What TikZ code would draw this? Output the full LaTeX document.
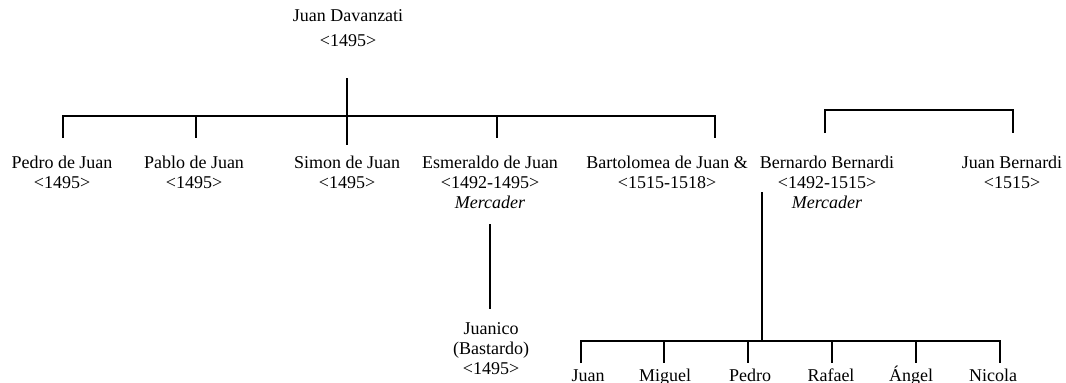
\documentclass[tikz,border=0pt]{standalone}
\usepackage{fontspec}
\setmainfont{Liberation Serif}
\begin{document}
\begin{tikzpicture}[x=1pt,y=-1pt,
  person/.style={font=\fontsize{18}{20}\selectfont, align=center, anchor=base, inner sep=0pt},
  link/.style={line width=1.7pt, line cap=butt, line join=miter}]
\useasboundingbox (0,0) rectangle (1066,383);
% people (anchor = baseline of the last line)
\node[person] (jd) at (348,46) {Juan Davanzati\\[5pt]<1495>};
\node[person] (pedro) at (62,188) {Pedro de Juan\\<1495>};
\node[person] (pablo) at (194,188) {Pablo de Juan\\<1495>};
\node[person] (simon) at (347,188) {Simon de Juan\\<1495>};
\node[person] (esme) at (490,208) {Esmeraldo de Juan\\<1492-1495>\\\textit{Mercader}};
\node[person] (barto) at (667,188) {Bartolomea de Juan \&\\<1515-1518>};
\node[person] (bern) at (827,208) {Bernardo Bernardi\\<1492-1515>\\\textit{Mercader}};
\node[person] (jb) at (1012,188) {Juan Bernardi\\<1515>};
\node[person] (juanico) at (491,374) {Juanico\\(Bastardo)\\<1495>};
\node[person] (c1) at (588,381) {Juan};
\node[person] (c2) at (665,381) {Miguel};
\node[person] (c3) at (750,381) {Pedro};
\node[person] (c4) at (831,381) {Rafael};
\node[person] (c5) at (911,381) {Ángel};
\node[person] (c6) at (993,381) {Nicola};
% connector points
\coordinate (jdT) at (347,78);
\coordinate (jdB) at (347,145);
\coordinate (b1L) at (63,116);
\coordinate (b1R) at (715,116);
\coordinate (t1) at (63,138);
\coordinate (t2) at (196,138);
\coordinate (t2u) at (196,116);
\coordinate (t4) at (497,138);
\coordinate (t4u) at (497,116);
\coordinate (t5) at (715,138);
\coordinate (brL) at (825,133);
\coordinate (brLu) at (825,110);
\coordinate (brRu) at (1013,110);
\coordinate (brR) at (1013,133);
\coordinate (esT) at (490,224);
\coordinate (esB) at (490,309);
\coordinate (bnT) at (762,192);
\coordinate (bnB) at (762,341);
\coordinate (b2L) at (581,341);
\coordinate (b2R) at (1000,341);
\coordinate (k1) at (581,363);
\coordinate (k2) at (664,363);
\coordinate (k2u) at (664,341);
\coordinate (k3) at (748,363);
\coordinate (k3u) at (748,341);
\coordinate (k4) at (832,363);
\coordinate (k4u) at (832,341);
\coordinate (k5) at (916,363);
\coordinate (k5u) at (916,341);
\coordinate (k6) at (1000,363);
% connectors
\draw[link] (jdT) -- (jdB);
\draw[link] (t1) -- (b1L) -- (b1R) -- (t5);
\draw[link] (t2u) -- (t2);
\draw[link] (t4u) -- (t4);
\draw[link] (brL) -- (brLu) -- (brRu) -- (brR);
\draw[link] (esT) -- (esB);
\draw[link] (bnT) -- (bnB);
\draw[link] (k1) -- (b2L) -- (b2R) -- (k6);
\draw[link] (k2u) -- (k2);
\draw[link] (k3u) -- (k3);
\draw[link] (k4u) -- (k4);
\draw[link] (k5u) -- (k5);
\end{tikzpicture}
\end{document}
